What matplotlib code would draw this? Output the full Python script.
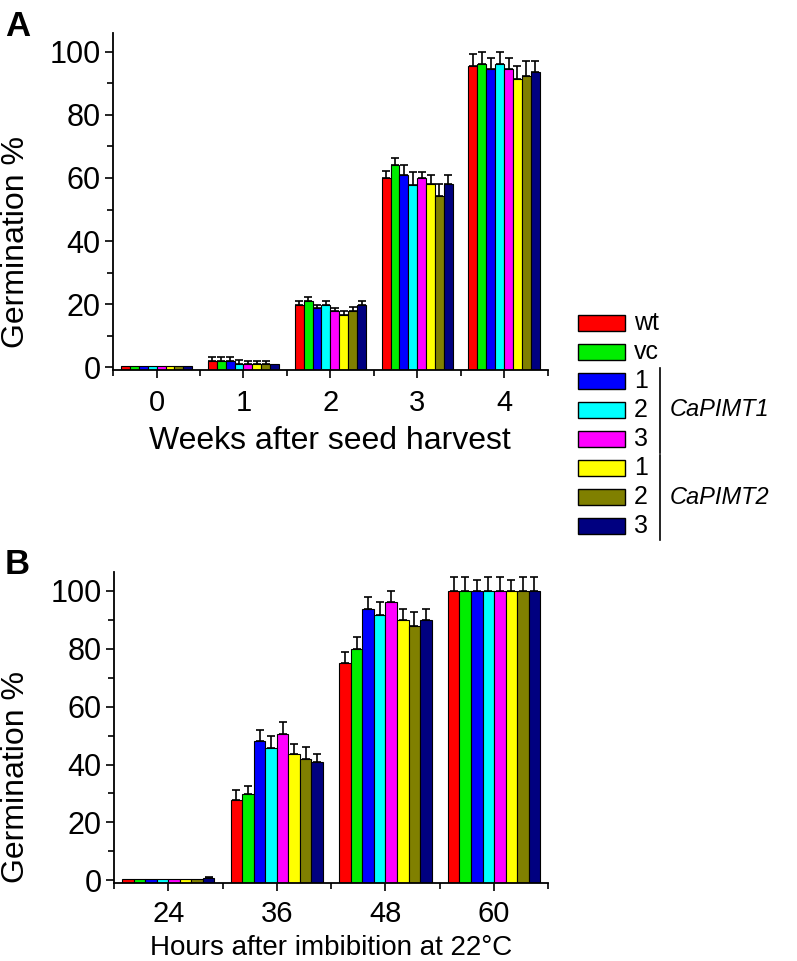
import numpy as np
import matplotlib
matplotlib.use("Agg")
import matplotlib.pyplot as plt
from matplotlib.patches import Rectangle
from matplotlib.lines import Line2D
from matplotlib.ticker import MultipleLocator

plt.rcParams["font.family"] = ["Liberation Sans", "DejaVu Sans"]

# series: wt, vc, CaPIMT1 lines 1-3, CaPIMT2 lines 1-3
series_labels = ["wt", "vc", "1", "2", "3", "1", "2", "3"]
colors = ["#ff0000", "#00ee00", "#0000ff", "#00ffff", "#ff00ff", "#ffff00", "#808000", "#000080"]

# panel A: weeks after seed harvest
weeks = ["0", "1", "2", "3", "4"]
a_vals = [
    [0.4, 2.1, 19.9, 59.9, 95.5],
    [0.4, 2.1, 20.9, 64.0, 96.0],
    [0.4, 2.1, 18.8, 61.0, 94.4],
    [0.4, 1.1, 19.7, 57.9, 96.0],
    [0.4, 1.1, 17.8, 60.0, 94.4],
    [0.4, 1.1, 16.7, 58.0, 91.2],
    [0.4, 1.1, 17.8, 54.4, 92.3],
    [0.4, 1.2, 19.9, 58.0, 93.6],
]
a_err = [
    [0, 1.2, 1.2, 2.3, 3.7],
    [0, 1.2, 1.3, 2.2, 4.0],
    [0, 1.2, 1.1, 3.0, 3.6],
    [0, 1.3, 1.2, 4.1, 4.0],
    [0, 1.1, 1.0, 2.0, 3.6],
    [0, 1.1, 1.1, 3.0, 4.3],
    [0, 1.1, 1.2, 3.6, 4.7],
    [0, 0, 1.0, 3.0, 3.4],
]

# panel B: hours after imbibition
hours = ["24", "36", "48", "60"]
b_vals = [
    [0.3, 27.6, 75.1, 100],
    [0.3, 29.7, 80.0, 100],
    [0.3, 48.0, 93.9, 100],
    [0.3, 45.7, 91.6, 100],
    [0.3, 50.7, 96.0, 100],
    [0.3, 43.5, 89.9, 100],
    [0.3, 41.8, 87.8, 100],
    [0.8, 40.9, 89.9, 100],
]
b_err = [
    [0, 3.5, 3.9, 4.8],
    [0, 3.0, 4.0, 4.8],
    [0, 4.0, 4.0, 3.7],
    [0, 4.1, 4.4, 4.8],
    [0, 4.0, 4.0, 4.8],
    [0, 3.5, 4.0, 3.7],
    [0, 4.2, 4.9, 4.8],
    [0.4, 2.6, 4.0, 4.8],
]


def draw_panel(ax, cats, vals, errs, group_w, ylo, yhi):
    n = len(vals)
    w = group_w / n
    x = np.arange(len(cats))
    for i in range(n):
        pos = x - group_w / 2 + w * (i + 0.5)
        v = np.array(vals[i], dtype=float)
        # bars rise from the axis line, as in the original figure
        ax.bar(pos, v - ylo, bottom=ylo, width=w, color=colors[i],
               edgecolor="black", linewidth=0.8, zorder=2)
        e = np.array(errs[i], dtype=float)
        mask = e > 0
        ax.errorbar(pos[mask], v[mask],
                    yerr=[np.zeros(mask.sum()), e[mask]],
                    fmt="none", ecolor="black", elinewidth=1.2,
                    capsize=2.6, capthick=1.2, zorder=3)
    ax.set_xlim(-0.5, len(cats) - 0.5)
    ax.set_ylim(ylo, yhi)
    ax.set_xticks(x)
    ax.set_xticklabels(cats)
    ax.set_xticks(np.arange(len(cats) + 1) - 0.5, minor=True)
    ax.set_yticks([0, 20, 40, 60, 80, 100])
    ax.yaxis.set_minor_locator(MultipleLocator(10))
    for s in ["top", "right"]:
        ax.spines[s].set_visible(False)
    for s in ["left", "bottom"]:
        ax.spines[s].set_linewidth(1.3)
    ax.tick_params(which="major", direction="out", length=6, width=1.2)
    ax.tick_params(which="minor", direction="out", length=4, width=1.2)
    ax.set_ylabel("Germination %", fontsize=23)


fig = plt.figure(figsize=(7.97, 9.61), dpi=100)

axA = fig.add_axes([0.142, 0.615, 0.545, 0.351])
draw_panel(axA, weeks, a_vals, a_err, 0.82, -0.8, 106)
axA.tick_params(axis="y", labelsize=22, pad=3)
axA.tick_params(axis="x", labelsize=21, pad=8)
axA.set_xlabel("Weeks after seed harvest", fontsize=23, labelpad=6)
axA.yaxis.set_label_coords(-0.19, 0.38)

axB = fig.add_axes([0.143, 0.081, 0.545, 0.324])
draw_panel(axB, hours, b_vals, b_err, 0.85, -1.0, 106.6)
axB.tick_params(axis="y", labelsize=22, pad=3)
axB.tick_params(axis="x", labelsize=21, pad=6)
axB.set_xlabel("Hours after imbibition at 22\u00b0C", fontsize=20, labelpad=5)
axB.yaxis.set_label_coords(-0.19, 0.34)

fig.text(0.006, 0.99, "A", fontsize=25, fontweight="bold", va="top", ha="left")
fig.text(0.006, 0.43, "B", fontsize=25, fontweight="bold", va="top", ha="left")

# legend drawn by hand, with grouping bars
W, H = 797.0, 961.0
row0 = 323.0
row_step = 29.0
for i, (lab, c) in enumerate(zip(series_labels, colors)):
    yc = row0 + i * row_step
    fig.patches.append(Rectangle((578 / W, 1 - (yc + 8) / H), 47 / W, 16 / H,
                                 transform=fig.transFigure, facecolor=c,
                                 edgecolor="black", linewidth=1.0))
    fig.text(634 / W, 1 - yc / H, lab, fontsize=18, va="center", ha="left")

groups = [("CaPIMT1", 2, 4), ("CaPIMT2", 5, 7)]
for name, i0, i1 in groups:
    y_top = row0 + i0 * row_step - 13
    y_bot = row0 + i1 * row_step + 14
    fig.lines.append(Line2D([660 / W, 660 / W], [1 - y_top / H, 1 - y_bot / H],
                            transform=fig.transFigure, color="black", linewidth=1.2))
    ymid = row0 + (i0 + i1) / 2 * row_step
    fig.text(670 / W, 1 - ymid / H, name, fontsize=17, style="italic",
             va="center", ha="left")

fig.savefig("out.png", dpi=100)
